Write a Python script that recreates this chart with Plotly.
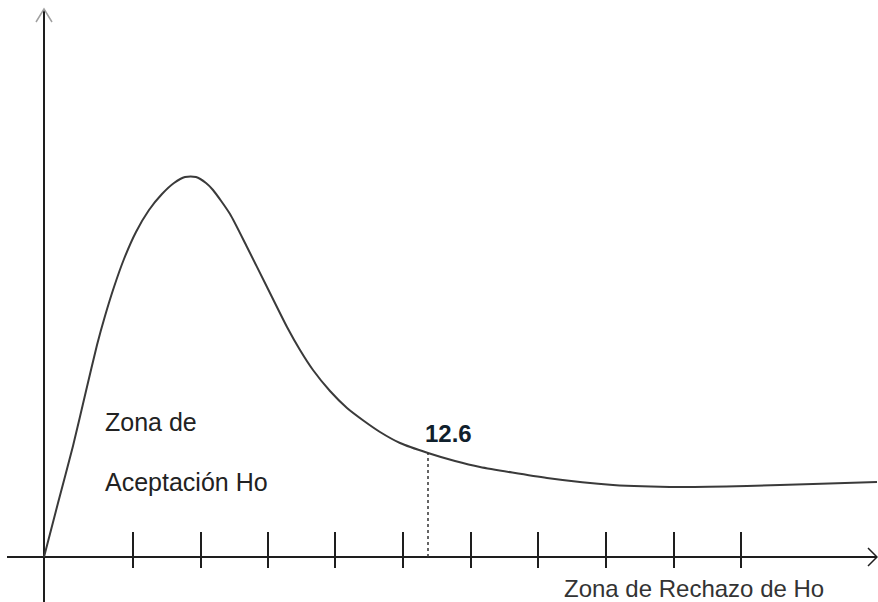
import plotly.graph_objects as go

# Curve (sketch of a chi-square density) in drawing units
# origin = where the axes cross; x grows right, y grows up
curve_x = [0, 14, 29, 42, 53, 61, 70, 80, 92, 105, 118, 130, 141, 152, 162, 169, 186,
           203, 223, 243, 256, 269, 286, 303, 320, 336, 356, 384, 411, 436, 503, 569,
           636, 703, 769, 833]
curve_y = [0, 54, 111, 166, 212, 241, 270, 298, 325, 347, 363, 374, 380, 380, 374, 367, 343,
           310, 270, 230, 207, 187, 166, 149, 136, 125, 114, 104, 96, 90, 79, 72,
           70, 71, 73, 75]

# tick marks on the horizontal axis
tick_x = [89, 157, 224, 291, 359, 427, 494, 562, 630, 697]

# critical value
critical_x = 384
critical_y = 104
critical_label = "12.6"

label_accept_1 = "Zona de"
label_accept_2 = "Aceptación Ho"
label_reject = "Zona de Rechazo de Ho"

axis_color = "#1e1e1e"
curve_color = "#3a3a3a"
font_family = "Liberation Sans, Arial, sans-serif"

fig = go.Figure()

# horizontal axis + arrow
fig.add_trace(go.Scatter(x=[-37, 833], y=[0, 0], mode="lines",
                         line=dict(color=axis_color, width=2), hoverinfo="skip"))
fig.add_trace(go.Scatter(x=[824, 833, 824], y=[9, 0, -9], mode="lines",
                         line=dict(color=axis_color, width=1.5), hoverinfo="skip"))
# vertical axis + arrow
fig.add_trace(go.Scatter(x=[0, 0], y=[-45, 547], mode="lines",
                         line=dict(color=axis_color, width=2), hoverinfo="skip"))
fig.add_trace(go.Scatter(x=[-8, 0, 8], y=[535, 548, 535], mode="lines",
                         line=dict(color="#a0a0a0", width=1.5), hoverinfo="skip"))

# ticks
tx, ty = [], []
for t in tick_x:
    tx += [t, t, None]
    ty += [-11, 25, None]
fig.add_trace(go.Scatter(x=tx, y=ty, mode="lines",
                         line=dict(color=axis_color, width=2), hoverinfo="skip"))

# curve
fig.add_trace(go.Scatter(x=curve_x, y=curve_y, mode="lines",
                         line=dict(color=curve_color, width=2, shape="spline", smoothing=0.6),
                         hoverinfo="skip"))

# critical value dashed line
fig.add_trace(go.Scatter(x=[critical_x, critical_x], y=[0, critical_y], mode="lines",
                         line=dict(color="#333333", width=1.5, dash="dot"), hoverinfo="skip"))

fig.add_annotation(x=critical_x + 20, y=critical_y + 20, text="<b>" + critical_label + "</b>",
                   showarrow=False, xanchor="center", yanchor="middle",
                   font=dict(family=font_family, size=24, color="#10202c"))
fig.add_annotation(x=59, y=135, text=label_accept_1, showarrow=False,
                   xanchor="left", yanchor="middle",
                   font=dict(family=font_family, size=25, color="#222222"))
fig.add_annotation(x=59, y=75, text=label_accept_2, showarrow=False,
                   xanchor="left", yanchor="middle",
                   font=dict(family=font_family, size=25, color="#222222"))
fig.add_annotation(x=518, y=-31, text=label_reject, showarrow=False,
                   xanchor="left", yanchor="middle",
                   font=dict(family=font_family, size=24, color="#333333"))

fig.update_layout(
    width=878, height=602,
    margin=dict(l=0, r=0, t=0, b=0),
    paper_bgcolor="white", plot_bgcolor="white",
    showlegend=False,
    xaxis=dict(range=[-44, 834], visible=False, fixedrange=True),
    yaxis=dict(range=[-45, 557], visible=False, fixedrange=True),
)

fig.write_html("out.html", config={"displayModeBar": False},
               post_script="document.body.style.margin='0px';document.body.style.overflow='hidden';")
